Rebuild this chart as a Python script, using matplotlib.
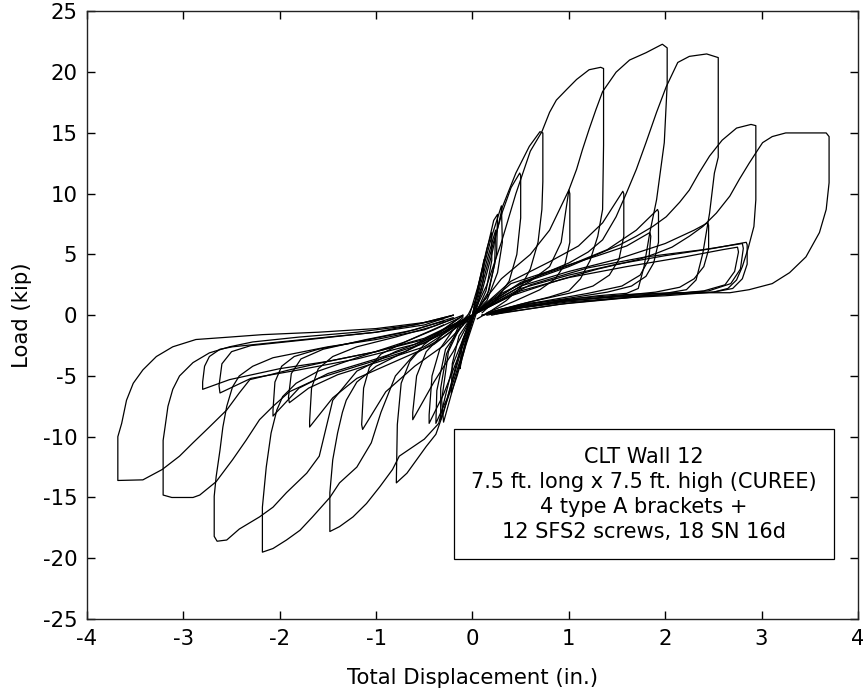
import matplotlib
matplotlib.use("Agg")
import matplotlib.pyplot as plt
from matplotlib.patches import Rectangle

# half cycles, (displacement in., load kip)
# positive excursions: loading branch -> peak -> unloading -> back to origin
pos_a = [(0.0, 0.0), (0.4, 1.6), (0.9, 2.9), (1.3, 3.8), (1.73, 4.6), (1.91, 5.1), (2.07, 5.6),
         (2.25, 6.5), (2.39, 7.3), (2.53, 8.4), (2.67, 9.8), (2.77, 11.2), (2.87, 12.5),
         (2.96, 13.6), (3.01, 14.2), (3.11, 14.7), (3.25, 15.0), (3.67, 15.0), (3.70, 14.7),
         (3.70, 10.9), (3.67, 8.7), (3.60, 6.8), (3.46, 4.8), (3.29, 3.5), (3.11, 2.6),
         (2.87, 2.1), (2.67, 1.85), (2.07, 1.85), (1.6, 1.7), (1.1, 1.4), (0.6, 1.0),
         (0.3, 0.5), (0.1, 0.0)]
pos_b = [(0.0, 0.0), (0.2, 1.2), (0.5, 2.6), (1.0, 4.0), (1.53, 5.8), (1.70, 6.5), (1.87, 7.3),
         (2.01, 8.1), (2.15, 9.3), (2.25, 10.3), (2.35, 11.7), (2.46, 13.1), (2.59, 14.4),
         (2.74, 15.4), (2.89, 15.7), (2.94, 15.6), (2.94, 9.5), (2.92, 7.3), (2.86, 5.5),
         (2.80, 4.0), (2.74, 2.9), (2.65, 2.2), (2.50, 1.9), (2.0, 1.7), (1.5, 1.5),
         (1.0, 1.25), (0.5, 0.7), (0.2, 0.1)]
pos_c = [(0.0, 0.0), (0.3, 1.8), (0.7, 3.3), (1.0, 4.3), (1.2, 5.2), (1.35, 6.2), (1.49, 8.1),
         (1.60, 10.1), (1.70, 12.0), (1.80, 14.2), (1.91, 16.7), (2.01, 18.8), (2.13, 20.8),
         (2.25, 21.3), (2.43, 21.5), (2.55, 21.2), (2.55, 13.0), (2.51, 11.7), (2.46, 8.4),
         (2.39, 5.1), (2.32, 2.9), (2.22, 2.1), (2.0, 1.8), (1.5, 1.55), (1.0, 1.2),
         (0.5, 0.6), (0.2, 0.0)]
pos_d = [(0.0, 0.0), (0.3, 1.5), (0.6, 2.8), (0.8, 4.0), (0.92, 6.0), (1.0, 10.3), (1.08, 12.0),
         (1.14, 13.6), (1.21, 15.3), (1.28, 16.9), (1.35, 18.4), (1.49, 20.0), (1.63, 21.0),
         (1.80, 21.6), (1.97, 22.3), (2.02, 22.0), (2.02, 19.0), (1.99, 14.2), (1.91, 9.5),
         (1.84, 6.8), (1.78, 4.0), (1.72, 2.2), (1.6, 1.8), (1.3, 1.6), (1.0, 1.3),
         (0.5, 0.7), (0.2, 0.1)]
pos_e = [(0.0, 0.0), (0.15, 2.5), (0.3, 6.0), (0.45, 10.0), (0.60, 13.5), (0.72, 15.1),
         (0.75, 15.7), (0.80, 16.7), (0.87, 17.7), (0.98, 18.6), (1.08, 19.4), (1.21, 20.2),
         (1.33, 20.4), (1.36, 20.3), (1.36, 14.0), (1.35, 8.7), (1.30, 6.5), (1.22, 4.5),
         (1.12, 3.0), (1.0, 2.0), (0.8, 1.5), (0.5, 0.9), (0.2, 0.2)]
pos_f = [(0.0, 0.0), (0.1, 2.0), (0.2, 5.0), (0.31, 8.9), (0.38, 10.3), (0.45, 11.7),
         (0.52, 12.8), (0.59, 13.9), (0.70, 15.1), (0.73, 15.0), (0.73, 11.0), (0.72, 8.7),
         (0.68, 6.0), (0.60, 3.8), (0.50, 2.3), (0.35, 1.2), (0.2, 0.4), (0.05, -0.3)]
pos_g = [(0.0, 0.0), (0.1, 2.5), (0.2, 5.5), (0.31, 8.5), (0.40, 10.5), (0.49, 11.7),
         (0.50, 11.5), (0.50, 8.0), (0.46, 5.0), (0.38, 2.8), (0.25, 1.3), (0.1, 0.2)]
# trailing cycles (lower peaks)
pos_t1 = [(0.0, 0.0), (0.5, 2.2), (1.0, 3.3), (1.5, 4.2), (2.0, 4.9), (2.5, 5.5), (2.84, 6.0),
          (2.85, 5.8), (2.85, 4.2), (2.80, 3.0), (2.7, 2.2), (2.5, 1.9), (2.0, 1.6),
          (1.5, 1.4), (1.0, 1.1), (0.5, 0.6), (0.15, 0.0)]
pos_t2 = [(0.0, 0.0), (0.5, 2.4), (1.0, 3.6), (1.5, 4.6), (2.0, 5.9), (2.3, 7.0), (2.44, 7.6),
          (2.45, 7.4), (2.45, 5.4), (2.40, 4.0), (2.3, 3.0), (2.15, 2.3), (1.9, 1.9),
          (1.4, 1.5), (0.9, 1.1), (0.4, 0.5), (0.1, 0.0)]
pos_t3 = [(0.0, 0.0), (0.5, 2.7), (1.0, 4.1), (1.4, 5.4), (1.7, 7.0), (1.92, 8.7), (1.93, 8.5),
          (1.93, 6.0), (1.88, 4.3), (1.8, 3.2), (1.65, 2.4), (1.4, 1.9), (1.0, 1.4),
          (0.5, 0.8), (0.1, 0.0)]
pos_t4 = [(0.0, 0.0), (0.4, 2.8), (0.8, 4.4), (1.1, 5.7), (1.35, 7.6), (1.56, 10.2),
          (1.57, 10.0), (1.57, 6.5), (1.52, 4.6), (1.42, 3.3), (1.25, 2.4), (1.0, 1.8),
          (0.6, 1.1), (0.2, 0.3)]
pos_t5 = [(0.0, 0.0), (0.3, 3.0), (0.6, 5.0), (0.8, 7.0), (1.0, 10.3), (1.01, 10.0),
          (1.01, 6.0), (0.96, 4.2), (0.86, 3.0), (0.7, 2.1), (0.45, 1.2), (0.15, 0.2)]
pos_t6 = [(0.0, 0.0), (0.6, 2.5), (1.2, 3.9), (1.8, 4.8), (2.4, 5.4), (2.80, 5.9), (2.81, 5.5),
          (2.78, 3.8), (2.68, 2.6), (2.45, 2.0), (1.8, 1.6), (1.0, 1.0), (0.3, 0.2)]
pos_t7 = [(0.0, 0.0), (0.5, 2.0), (1.0, 3.1), (1.6, 4.0), (2.2, 4.8), (2.6, 5.4), (2.75, 5.6),
          (2.76, 5.2), (2.72, 3.6), (2.62, 2.5), (2.4, 2.0), (1.7, 1.5), (0.9, 0.9), (0.25, 0.1)]
pos_t8 = [(0.0, 0.0), (0.4, 2.6), (0.9, 3.9), (1.3, 4.9), (1.6, 5.7), (1.84, 6.8), (1.85, 6.5),
          (1.83, 4.6), (1.74, 3.3), (1.55, 2.4), (1.2, 1.8), (0.7, 1.1), (0.2, 0.2)]

# negative excursions
neg_a = [(0.0, 0.0), (-0.5, -1.9), (-1.0, -3.0), (-1.5, -3.8), (-1.9, -4.5), (-2.1, -4.9),
         (-2.31, -5.3), (-2.42, -6.4), (-2.55, -7.8), (-2.73, -9.2), (-2.90, -10.5),
         (-3.04, -11.6), (-3.22, -12.7), (-3.42, -13.55), (-3.68, -13.6), (-3.68, -10.0),
         (-3.64, -8.9), (-3.59, -7.0), (-3.52, -5.6), (-3.42, -4.5), (-3.28, -3.4),
         (-3.11, -2.6), (-2.87, -2.0), (-2.52, -1.8), (-2.18, -1.6), (-1.6, -1.4),
         (-1.0, -1.1), (-0.5, -0.6), (-0.2, 0.0)]
neg_b = [(0.0, 0.0), (-0.3, -1.5), (-0.7, -3.0), (-1.2, -4.2), (-1.6, -5.2), (-1.9, -6.3),
         (-2.07, -7.5), (-2.21, -8.6), (-2.35, -10.3), (-2.49, -11.9), (-2.66, -13.7),
         (-2.83, -14.8), (-2.9, -15.0), (-3.12, -15.0), (-3.21, -14.8), (-3.21, -10.3),
         (-3.19, -9.2), (-3.16, -7.5), (-3.11, -6.1), (-3.04, -5.0), (-2.90, -3.9),
         (-2.73, -3.1), (-2.52, -2.6), (-2.28, -2.2), (-1.8, -1.8), (-1.2, -1.4),
         (-0.6, -0.8), (-0.2, 0.0)]
neg_c = [(0.0, 0.0), (-0.4, -1.8), (-0.8, -3.0), (-1.2, -4.6), (-1.45, -7.0), (-1.59, -11.6),
         (-1.72, -13.0), (-1.93, -14.6), (-2.07, -15.8), (-2.21, -16.6), (-2.42, -17.6),
         (-2.55, -18.5), (-2.65, -18.6), (-2.68, -18.2), (-2.68, -14.9), (-2.66, -13.3),
         (-2.62, -11.1), (-2.59, -9.2), (-2.55, -7.5), (-2.49, -5.9), (-2.42, -5.0),
         (-2.28, -4.2), (-2.07, -3.5), (-1.5, -2.6), (-1.0, -2.0), (-0.5, -1.2), (-0.2, -0.3)]
neg_d = [(0.0, 0.0), (-0.3, -1.8), (-0.6, -3.2), (-0.8, -5.0), (-0.95, -8.0), (-1.05, -10.5),
         (-1.2, -12.5), (-1.38, -13.8), (-1.48, -15.0), (-1.66, -16.6), (-1.79, -17.7),
         (-1.93, -18.5), (-2.07, -19.2), (-2.18, -19.5), (-2.18, -15.8), (-2.14, -12.5),
         (-2.09, -9.7), (-2.03, -7.8), (-1.97, -6.7), (-1.83, -5.6), (-1.6, -4.6),
         (-1.2, -3.5), (-0.7, -2.2), (-0.3, -0.8)]
neg_e = [(0.0, 0.0), (-0.2, -4.0), (-0.35, -8.9), (-0.5, -10.2), (-0.76, -11.6),
         (-0.83, -12.7), (-0.96, -14.1), (-1.10, -15.5), (-1.24, -16.6), (-1.38, -17.4),
         (-1.48, -17.8), (-1.48, -14.6), (-1.45, -11.9), (-1.40, -9.7), (-1.35, -8.0),
         (-1.31, -7.0), (-1.2, -5.5), (-1.0, -4.2), (-0.7, -3.0), (-0.4, -1.7), (-0.15, -0.3)]
neg_f = [(0.0, 0.0), (-0.1, -2.0), (-0.2, -5.0), (-0.30, -8.0), (-0.38, -9.8), (-0.48, -10.8),
         (-0.58, -11.9), (-0.68, -13.0), (-0.79, -13.8), (-0.79, -13.6), (-0.78, -9.0),
         (-0.74, -5.6), (-0.65, -3.8), (-0.5, -2.4), (-0.3, -1.2), (-0.1, 0.0)]
neg_t1 = [(0.0, 0.0), (-0.5, -2.0), (-1.0, -3.0), (-1.5, -3.8), (-2.0, -4.4), (-2.52, -5.3),
          (-2.80, -6.1), (-2.80, -5.5), (-2.78, -4.2), (-2.73, -3.4), (-2.62, -2.8),
          (-2.49, -2.6), (-2.0, -2.2), (-1.5, -1.8), (-1.0, -1.4), (-0.5, -0.8), (-0.2, 0.0)]
neg_t2 = [(0.0, 0.0), (-0.5, -2.3), (-1.0, -3.6), (-1.5, -4.8), (-1.8, -6.0), (-2.07, -8.3),
          (-2.07, -7.8), (-2.05, -5.5), (-1.98, -4.2), (-1.85, -3.4), (-1.6, -2.8),
          (-1.2, -2.2), (-0.7, -1.4), (-0.3, -0.5)]
neg_t3 = [(0.0, 0.0), (-0.4, -2.4), (-0.8, -3.8), (-1.2, -5.2), (-1.45, -6.8), (-1.69, -9.2),
          (-1.69, -8.7), (-1.67, -6.0), (-1.6, -4.4), (-1.45, -3.4), (-1.2, -2.6),
          (-0.8, -1.8), (-0.4, -0.9), (-0.1, 0.0)]
neg_t4 = [(0.0, 0.0), (-0.3, -2.5), (-0.6, -4.2), (-0.9, -6.3), (-1.14, -9.4), (-1.15, -9.0),
          (-1.13, -6.0), (-1.07, -4.3), (-0.95, -3.2), (-0.7, -2.2), (-0.4, -1.2), (-0.1, -0.1)]
neg_t5 = [(0.0, 0.0), (-0.2, -3.0), (-0.4, -5.5), (-0.62, -8.6), (-0.62, -8.0), (-0.58, -5.0),
          (-0.48, -3.0), (-0.3, -1.5), (-0.1, -0.2)]
neg_t6 = [(0.0, 0.0), (-0.15, -3.5), (-0.3, -6.5), (-0.45, -8.9), (-0.45, -8.2), (-0.42, -5.0),
          (-0.34, -2.8), (-0.2, -1.2), (-0.05, 0.0)]
neg_t7 = [(0.0, 0.0), (-0.6, -2.4), (-1.2, -3.6), (-1.8, -4.5), (-2.3, -5.2), (-2.62, -6.4),
          (-2.63, -5.8), (-2.6, -4.0), (-2.5, -3.0), (-2.3, -2.5), (-1.7, -2.0), (-1.0, -1.4),
          (-0.3, -0.3)]
neg_t8 = [(0.0, 0.0), (-0.5, -2.6), (-1.0, -3.9), (-1.4, -4.9), (-1.7, -6.0), (-1.9, -7.2),
          (-1.91, -6.8), (-1.88, -4.8), (-1.78, -3.6), (-1.55, -2.8), (-1.1, -2.0),
          (-0.6, -1.2), (-0.2, -0.2)]

# small cycles around the origin
small_1 = [(0.0, 0.0), (0.1, 3.5), (0.2, 6.5), (0.3, 9.0), (0.31, 6.0), (0.26, 3.5),
           (0.15, 1.2), (0.0, 0.0), (-0.1, -3.0), (-0.22, -6.0), (-0.33, -8.6), (-0.33, -6.0),
           (-0.27, -3.2), (-0.15, -1.0), (0.0, 0.0)]
small_2 = [(0.0, 0.0), (0.07, 2.8), (0.15, 5.5), (0.2, 6.8), (0.2, 4.5), (0.14, 2.0),
           (0.05, 0.4), (-0.07, -2.5), (-0.16, -5.0), (-0.22, -6.4), (-0.21, -4.0),
           (-0.14, -1.7), (0.0, 0.0)]
small_3 = [(0.0, 0.0), (0.05, 2.0), (0.1, 3.8), (0.12, 4.6), (0.11, 2.8), (0.06, 1.0),
           (-0.05, -1.8), (-0.11, -3.6), (-0.13, -4.4), (-0.11, -2.4), (-0.04, -0.6),
           (0.0, 0.0)]
small_4 = [(-0.05, -0.5), (0.08, 3.0), (0.22, 7.8), (0.26, 8.3), (0.25, 5.0), (0.17, 2.0),
           (0.0, -0.3), (-0.15, -4.5), (-0.30, -8.8), (-0.32, -7.0), (-0.25, -3.0),
           (-0.12, -0.8), (-0.05, -0.5)]
small_5 = [(-0.1, -0.8), (0.05, 1.5), (0.16, 4.8), (0.24, 7.0), (0.23, 4.2), (0.15, 1.5),
           (0.02, 0.2), (-0.12, -3.0), (-0.26, -6.8), (-0.38, -8.9), (-0.37, -6.2),
           (-0.28, -2.8), (-0.1, -0.8)]

half_cycles = [pos_a, pos_b, pos_c, pos_d, pos_e, pos_f, pos_g,
               pos_t1, pos_t2, pos_t3, pos_t4, pos_t5, pos_t6, pos_t7, pos_t8,
               neg_a, neg_b, neg_c, neg_d, neg_e, neg_f,
               neg_t1, neg_t2, neg_t3, neg_t4, neg_t5, neg_t6, neg_t7, neg_t8,
               small_1, small_2, small_3, small_4, small_5]

x_ticks = [-4, -3, -2, -1, 0, 1, 2, 3, 4]
y_ticks = [-25, -20, -15, -10, -5, 0, 5, 10, 15, 20, 25]
note_lines = ["CLT Wall 12", "7.5 ft. long x 7.5 ft. high (CUREE)",
              "4 type A brackets +", "12 SFS2 screws, 18 SN 16d"]

fig = plt.figure(figsize=(8.63, 6.92), dpi=100)
ax = fig.add_axes([0.1008, 0.1055, 0.8934, 0.878])

for cyc in half_cycles:
    xs = [p[0] for p in cyc]
    ys = [p[1] for p in cyc]
    ax.plot(xs, ys, color="black", lw=0.9)

ax.set_xlim(-4, 4)
ax.set_ylim(-25, 25)
ax.set_xticks(x_ticks)
ax.set_yticks(y_ticks)
ax.set_xticklabels([str(v) for v in x_ticks])
ax.set_yticklabels([str(v) for v in y_ticks])
ax.tick_params(direction="in", length=5.5, width=1.0, top=True, right=True,
               labelsize=15.3, pad=7, colors="black")
for s in ax.spines.values():
    s.set_linewidth(1.0)
    s.set_color("#222222")
ax.set_xlabel("Total Displacement (in.)", fontsize=15.3, labelpad=14)
ax.set_ylabel("Load (kip)", fontsize=15.3, labelpad=8)

# annotation box
ax.add_patch(Rectangle((-0.197, -20.1), 3.952, 10.75, facecolor="white",
                       edgecolor="black", lw=0.9, zorder=5))
ax.text(1.779, -14.76, "\n".join(note_lines), ha="center", va="center",
        fontsize=15, linespacing=1.3, zorder=6)

fig.savefig("out.png", dpi=100)
